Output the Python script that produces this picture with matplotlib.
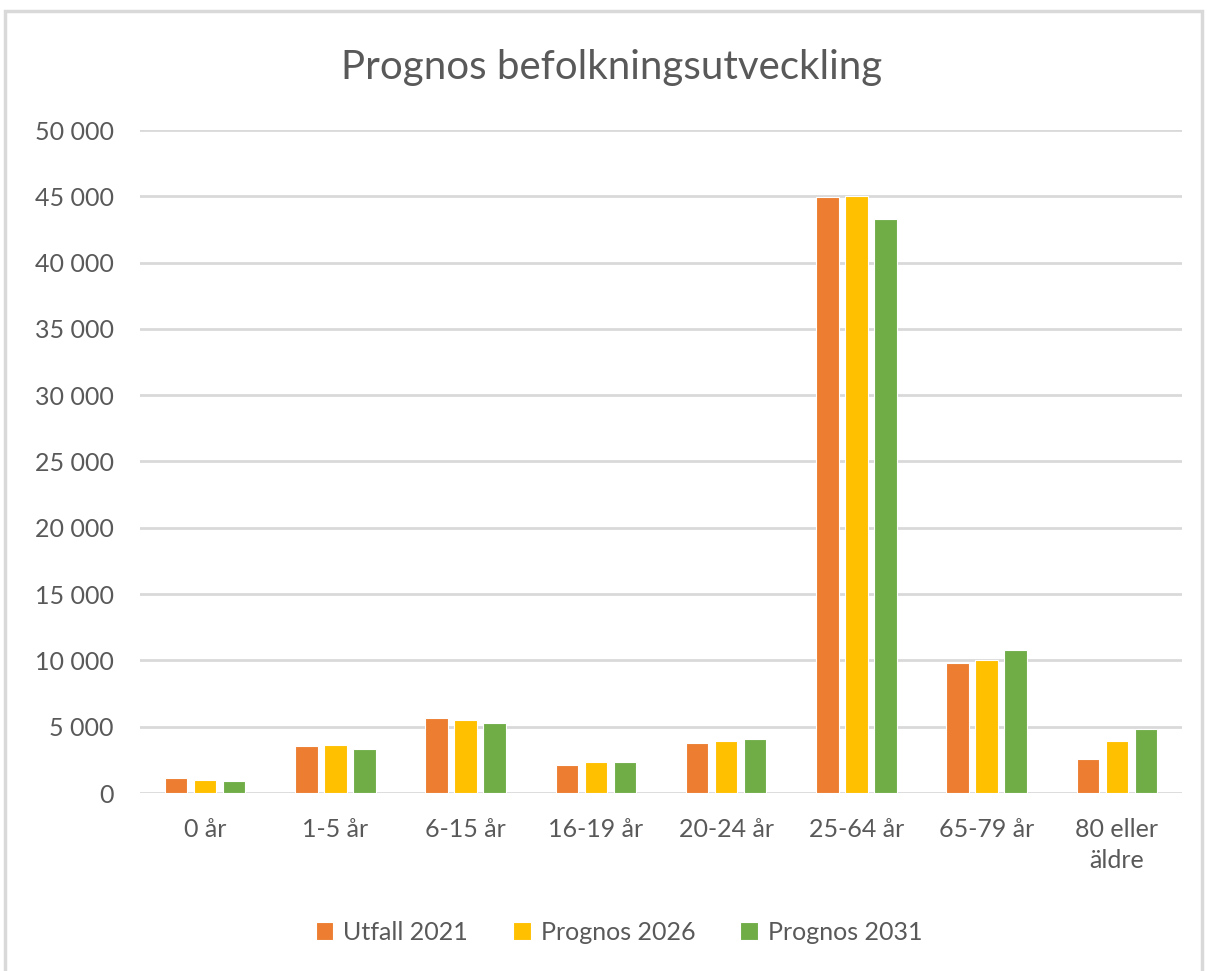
import matplotlib
matplotlib.use("Agg")
import matplotlib.pyplot as plt
import numpy as np
from matplotlib.patches import Rectangle

categories = ["0 år", "1-5 år", "6-15 år", "16-19 år", "20-24 år", "25-64 år", "65-79 år", "80 eller\näldre"]
series_names = ["Utfall 2021", "Prognos 2026", "Prognos 2031"]
utfall_2021 = [1130, 3520, 5690, 2130, 3780, 44950, 9800, 2590]
prognos_2026 = [1000, 3650, 5540, 2360, 3890, 45050, 10030, 3890]
prognos_2031 = [900, 3290, 5310, 2360, 4040, 43310, 10780, 4850]
yticks = [0, 5000, 10000, 15000, 20000, 25000, 30000, 35000, 40000, 45000, 50000]
colors = ["#ED7D31", "#FFC000", "#70AD47"]

plt.rcParams['font.family'] = ['Lato', 'DejaVu Sans']
text_color = "#595959"

fig = plt.figure(figsize=(12.07, 9.71), dpi=100)
ax = fig.add_axes([140/1207, 1-793/971, 1042/1207, 663/971])

x = np.arange(len(categories))
width = 0.173
offset = 0.222
for i, (vals, name) in enumerate(zip([utfall_2021, prognos_2026, prognos_2031], series_names)):
    ax.bar(x + (i-1)*offset, vals, width=width, color=colors[i], label=name,
           edgecolor="white", linewidth=0.8, zorder=3)

ax.set_xlim(-0.5, len(categories)-0.5)
ax.set_ylim(0, 50000)
ax.set_yticks(yticks)
ax.set_yticklabels([f"{v:,}".replace(",", " ") for v in yticks])
ax.set_xticks(x)
ax.set_xticklabels(categories, linespacing=1.4)
ax.tick_params(axis='both', length=0, labelsize=18, colors=text_color)
ax.tick_params(axis='y', pad=19)
ax.tick_params(axis='x', pad=18)
for lab in ax.get_xticklabels():
    lab.set_verticalalignment('top')
ax.grid(axis='y', color="#D9D9D9", linewidth=2, zorder=0)
for s in ax.spines.values():
    s.set_visible(False)

fig.text(612/1207, 1-68/971, "Prognos befolkningsutveckling", ha='center', va='center',
         fontsize=29, color=text_color)

handles, labels = ax.get_legend_handles_labels()
leg = fig.legend(handles, labels, loc='center', bbox_to_anchor=(619/1207, 1-932/971), ncol=3,
                 frameon=False, fontsize=18, handlelength=0.7, handleheight=0.7,
                 columnspacing=1.8, handletextpad=0.4)
for t in leg.get_texts():
    t.set_color(text_color)

fig.patches.append(Rectangle((5/1207, -0.01), 1197/1207, 1-11/971 + 0.01, transform=fig.transFigure,
                             fill=False, edgecolor="#D9D9D9", linewidth=2.5))

fig.savefig("out.png", dpi=100, facecolor="white")
